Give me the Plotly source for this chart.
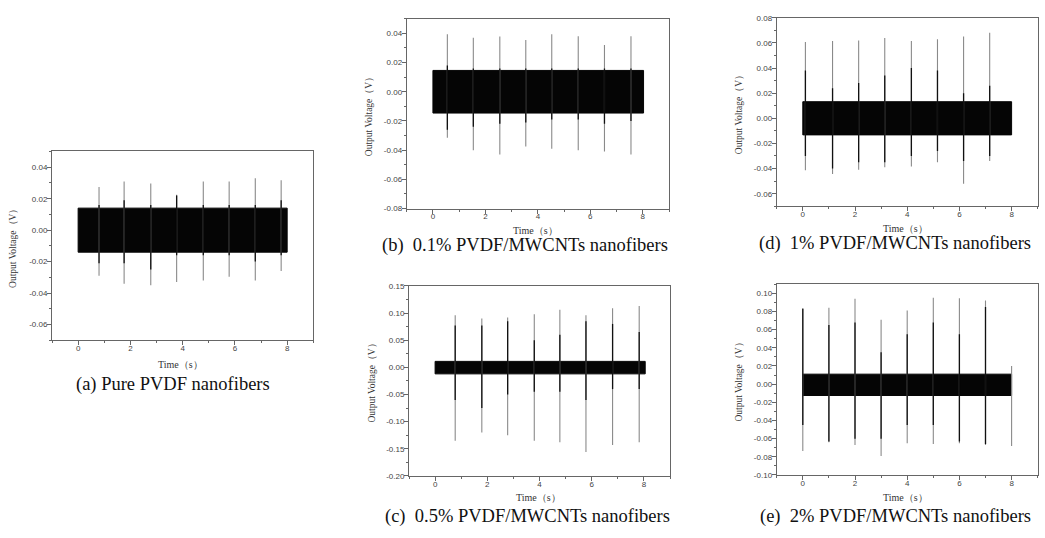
import plotly.graph_objects as go

W, H = 1045, 538

# ---------------- data ----------------
# (a) Pure PVDF
a_band = [-0.014, 0.014]
a_band_t = [0.0, 8.0]
a_spike_t = [0.80, 1.76, 2.78, 3.77, 4.79, 5.78, 6.78, 7.77]
a_spike_max = [0.0275, 0.031, 0.0296, 0.0225, 0.031, 0.031, 0.033, 0.0317]
a_spike_min = [-0.029, -0.034, -0.035, -0.033, -0.032, -0.0296, -0.032, -0.026]
a_core_max = [0.016, 0.019, 0.016, 0.022, 0.016, 0.016, 0.016, 0.019]
a_core_min = [-0.021, -0.021, -0.025, -0.016, -0.016, -0.016, -0.020, -0.016]

# (b) 0.1% PVDF/MWCNTs
b_band = [-0.0146, 0.0146]
b_band_t = [0.0, 8.03]
b_spike_t = [0.55, 1.54, 2.55, 3.54, 4.53, 5.54, 6.54, 7.55]
b_spike_max = [0.0393, 0.037, 0.0378, 0.0355, 0.0393, 0.038, 0.032, 0.038]
b_spike_min = [-0.0315, -0.040, -0.043, -0.0375, -0.039, -0.040, -0.041, -0.043]
b_core_max = [0.018, 0.016, 0.016, 0.016, 0.016, 0.016, 0.016, 0.016]
b_core_min = [-0.026, -0.024, -0.022, -0.021, -0.019, -0.019, -0.022, -0.020]

# (d) 1% PVDF/MWCNTs
d_band = [-0.0132, 0.0132]
d_band_t = [0.0, 8.0]
d_spike_t = [0.10, 1.14, 2.14, 3.14, 4.16, 5.16, 6.16, 7.16]
d_spike_max = [0.0608, 0.0616, 0.062, 0.064, 0.0616, 0.063, 0.065, 0.068]
d_spike_min = [-0.0413, -0.0444, -0.041, -0.039, -0.0384, -0.035, -0.052, -0.034]
d_core_max = [0.038, 0.024, 0.028, 0.034, 0.040, 0.038, 0.020, 0.026]
d_core_min = [-0.030, -0.040, -0.035, -0.035, -0.030, -0.026, -0.034, -0.030]

# (c) 0.5% PVDF/MWCNTs
c_band = [-0.012, 0.011]
c_band_t = [0.0, 8.05]
c_spike_t = [0.77, 1.79, 2.78, 3.80, 4.78, 5.78, 6.80, 7.82]
c_spike_max = [0.096, 0.090, 0.092, 0.098, 0.106, 0.096, 0.109, 0.113]
c_spike_min = [-0.135, -0.120, -0.125, -0.135, -0.138, -0.156, -0.143, -0.138]
c_core_max = [0.077, 0.077, 0.085, 0.050, 0.060, 0.085, 0.080, 0.065]
c_core_min = [-0.060, -0.075, -0.050, -0.045, -0.045, -0.060, -0.040, -0.040]

# (e) 2% PVDF/MWCNTs
e_band = [-0.0125, 0.011]
e_band_t = [0.0, 8.0]
e_spike_t = [0.0, 1.0, 2.0, 3.0, 4.0, 5.0, 6.0, 7.0, 8.0]
e_spike_max = [0.0836, 0.084, 0.094, 0.071, 0.081, 0.095, 0.0945, 0.092, 0.020]
e_spike_min = [-0.0735, -0.064, -0.067, -0.079, -0.065, -0.066, -0.065, -0.067, -0.068]
e_core_max = [0.083, 0.065, 0.068, 0.035, 0.055, 0.068, 0.055, 0.085, 0.0]
e_core_min = [-0.045, -0.063, -0.060, -0.060, -0.045, -0.045, -0.063, -0.066, 0.0]

x_ticks = [0, 2, 4, 6, 8]
x_ticklabels = ["0", "2", "4", "6", "8"]
a_yticks = [-0.06, -0.04, -0.02, 0.0, 0.02, 0.04]
a_yticklabels = ["-0.06", "-0.04", "-0.02", "0.00", "0.02", "0.04"]
b_yticks = [-0.08, -0.06, -0.04, -0.02, 0.0, 0.02, 0.04]
b_yticklabels = ["-0.08", "-0.06", "-0.04", "-0.02", "0.00", "0.02", "0.04"]
d_yticks = [-0.06, -0.04, -0.02, 0.0, 0.02, 0.04, 0.06, 0.08]
d_yticklabels = ["-0.06", "-0.04", "-0.02", "0.00", "0.02", "0.04", "0.06", "0.08"]
c_yticks = [-0.20, -0.15, -0.10, -0.05, 0.0, 0.05, 0.10, 0.15]
c_yticklabels = ["-0.20", "-0.15", "-0.10", "-0.05", "0.00", "0.05", "0.10", "0.15"]
e_yticks = [-0.10, -0.08, -0.06, -0.04, -0.02, 0.0, 0.02, 0.04, 0.06, 0.08, 0.10]
e_yticklabels = ["-0.10", "-0.08", "-0.06", "-0.04", "-0.02", "0.00", "0.02", "0.04",
                 "0.06", "0.08", "0.10"]

captions = {
    "a": "(a) Pure PVDF nanofibers",
    "b": "(b)  0.1% PVDF/MWCNTs nanofibers",
    "c": "(c)  0.5% PVDF/MWCNTs nanofibers",
    "d": "(d)  1% PVDF/MWCNTs nanofibers",
    "e": "(e)  2% PVDF/MWCNTs nanofibers",
}
y_title = "Output Voltage（V）"
x_title = "Time（s）"

# ---------------- layout geometry (pixels) ----------------
panels = {
    "a": dict(box=(52, 313.3, 150, 342), yr=[-0.07, 0.05], yt=a_yticks, yl=a_yticklabels,
              md=0.01, m0=-0.07, band=a_band, bt=a_band_t, st=a_spike_t, smax=a_spike_max,
              smin=a_spike_min, cmax=a_core_max, cmin=a_core_min,
              cap=(173, 387), xt=(180, 366.5), yt_pos=(13, 246)),
    "b": dict(box=(406.7, 669, 15, 208), yr=[-0.08, 0.05], yt=b_yticks, yl=b_yticklabels,
              md=0.01, m0=-0.08, band=b_band, bt=b_band_t, st=b_spike_t, smax=b_spike_max,
              smin=b_spike_min, cmax=b_core_max, cmin=b_core_min,
              cap=(525, 246), xt=(535, 230), yt_pos=(369, 112)),
    "d": dict(box=(776.7, 1037.7, 14, 205.7), yr=[-0.07, 0.08], yt=d_yticks, yl=d_yticklabels,
              md=0.01, m0=-0.07, band=d_band, bt=d_band_t, st=d_spike_t, smax=d_spike_max,
              smin=d_spike_min, cmax=d_core_max, cmin=d_core_min,
              cap=(895, 244), xt=(905, 228), yt_pos=(739, 110)),
    "c": dict(box=(409, 670, 286.7, 480), yr=[-0.20, 0.15], yt=c_yticks, yl=c_yticklabels,
              md=0.025, m0=-0.2, band=c_band, bt=c_band_t, st=c_spike_t, smax=c_spike_max,
              smin=c_spike_min, cmax=c_core_max, cmin=c_core_min,
              cap=(527, 521), xt=(538, 502), yt_pos=(372, 383)),
    "e": dict(box=(776.7, 1037.7, 285, 479), yr=[-0.10, 0.11], yt=e_yticks, yl=e_yticklabels,
              md=0.01, m0=-0.1, band=e_band, bt=e_band_t, st=e_spike_t, smax=e_spike_max,
              smin=e_spike_min, cmax=e_core_max, cmin=e_core_min,
              cap=(895, 521), xt=(905, 502), yt_pos=(739, 382)),
}

fig = go.Figure()
layout = dict(
    width=W, height=H, margin=dict(l=0, r=0, t=0, b=0),
    paper_bgcolor="white", plot_bgcolor="white", showlegend=False,
)
annotations = []

tickfont = dict(family="Liberation Sans, Arial, sans-serif", size=8, color="#444")
axis_common = dict(
    showline=True, mirror=True, linecolor="#666", linewidth=1,
    showgrid=False, zeroline=False, ticks="outside", ticklen=4, tickcolor="#666",
    tickwidth=1, tickfont=tickfont, fixedrange=True,
)
serif = "Liberation Serif, Times New Roman, serif"

for i, (key, p) in enumerate(panels.items(), start=1):
    xa = "x" if i == 1 else f"x{i}"
    ya = "y" if i == 1 else f"y{i}"
    l, r, t, b = p["box"]
    layout["xaxis" if i == 1 else f"xaxis{i}"] = dict(
        axis_common, domain=[l / W, r / W], range=[-1, 9], anchor=ya,
        tickmode="array", tickvals=x_ticks, ticktext=x_ticklabels, ticklabelstandoff=-4,
        minor=dict(ticks="outside", ticklen=2, tickcolor="#666", tickmode="linear",
                   tick0=-1, dtick=1),
    )
    layout["yaxis" if i == 1 else f"yaxis{i}"] = dict(
        axis_common, domain=[1 - b / H, 1 - t / H], range=p["yr"], anchor=xa,
        tickmode="array", tickvals=p["yt"], ticktext=p["yl"], ticklabelstandoff=-2,
        minor=dict(ticks="outside", ticklen=2, tickcolor="#666", tickmode="linear",
                   tick0=p["m0"], dtick=p["md"]),
    )
    # noise band
    lo, hi = p["band"]
    t0, t1 = p["bt"]
    fig.add_trace(go.Scatter(
        x=[t0, t1, t1, t0, t0], y=[lo, lo, hi, hi, lo], mode="lines", fill="toself",
        fillcolor="#050505", line=dict(color="#050505", width=1), xaxis=xa, yaxis=ya,
        hoverinfo="skip"))
    # spikes (full extent, light)
    sx, sy = [], []
    for tt, mn, mx in zip(p["st"], p["smin"], p["smax"]):
        sx += [tt, tt, None]
        sy += [mn, mx, None]
    fig.add_trace(go.Scatter(x=sx, y=sy, mode="lines",
                             line=dict(color="#8a8a8a", width=1.1),
                             xaxis=xa, yaxis=ya, hoverinfo="skip"))
    # spike cores (dark)
    cx, cy = [], []
    for tt, mn, mx in zip(p["st"], p["cmin"], p["cmax"]):
        cx += [tt, tt, None]
        cy += [mn, mx, None]
    fig.add_trace(go.Scatter(x=cx, y=cy, mode="lines",
                             line=dict(color="#111", width=1.3),
                             xaxis=xa, yaxis=ya, hoverinfo="skip"))

    # texts
    cxp, cyp = p["cap"]
    annotations.append(dict(
        text=captions[key], x=cxp / W, y=1 - cyp / H, xref="paper", yref="paper",
        showarrow=False, xanchor="center", yanchor="middle",
        font=dict(family=serif, size=18.5, color="#111")))
    txp, typ = p["xt"]
    annotations.append(dict(
        text=x_title, x=txp / W, y=1 - typ / H, xref="paper", yref="paper",
        showarrow=False, xanchor="center", yanchor="middle",
        font=dict(family=serif, size=10, color="#333")))
    yxp, yyp = p["yt_pos"]
    annotations.append(dict(
        text=y_title, x=yxp / W, y=1 - yyp / H, xref="paper", yref="paper",
        showarrow=False, xanchor="center", yanchor="middle", textangle=-90,
        font=dict(family=serif, size=9.5, color="#333")))

layout["annotations"] = annotations
fig.update_layout(**layout)
fig.write_html("out.html", config={"displayModeBar": False},
               post_script="document.body.style.margin='0';")
